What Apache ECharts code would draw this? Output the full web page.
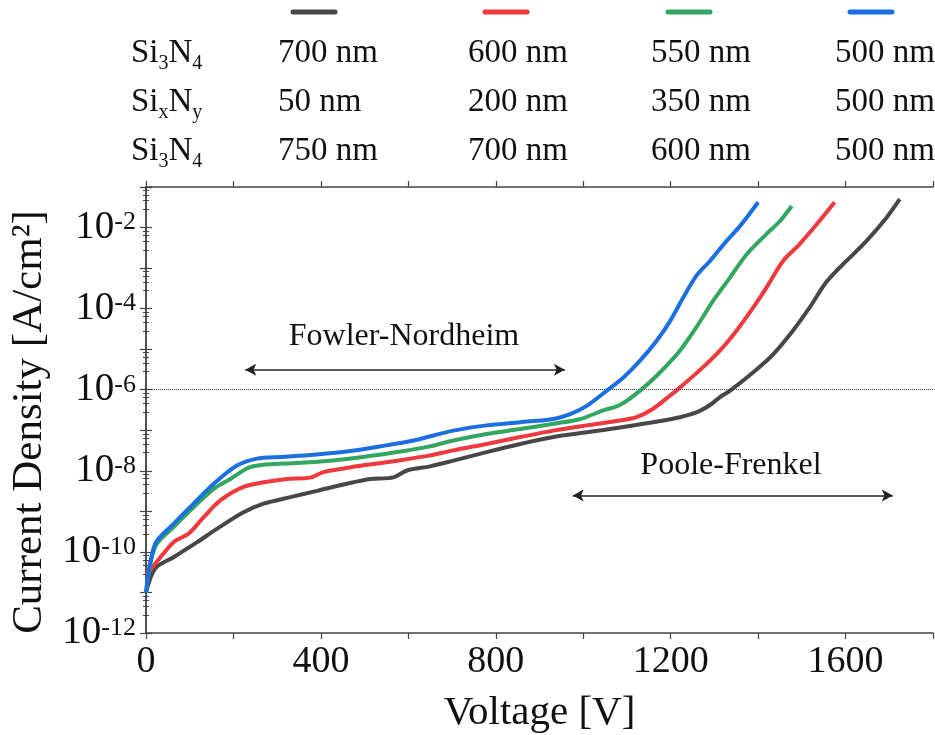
<!DOCTYPE html>
<html>
<head>
<meta charset="utf-8">
<script src="https://cdn.jsdelivr.net/npm/echarts@6/dist/echarts.min.js"></script>
<style>
  html, body { margin: 0; padding: 0; background: #fff; }
  #main { width: 935px; height: 735px; }
</style>
</head>
<body>
<div id="main"></div>
<script>
var chart = echarts.init(document.getElementById('main'));

var FONT = '"Liberation Serif", "Times New Roman", serif';

// layer stacks (top / middle / bottom thickness), one column per sample
var colLabels = ['Si{sub|3}N{sub|4}', 'Si{sub|x}N{sub|y}', 'Si{sub|3}N{sub|4}'];
var topLayer = ['700 nm', '600 nm', '550 nm', '500 nm'];
var midLayer = ['50 nm', '200 nm', '350 nm', '500 nm'];
var botLayer = ['750 nm', '700 nm', '600 nm', '500 nm'];
var colors = ['#474747', '#f0393d', '#33a65f', '#1b6fe0'];

// voltage [V] and current density [A/cm2]
var blackV = [0, 21, 63, 117, 162, 223, 269, 330, 391, 459, 513, 566, 597, 650, 703, 779, 856, 932, 1008, 1084, 1160, 1221, 1259, 1290, 1313, 1336, 1389, 1435, 1480, 1518, 1553, 1579, 1602, 1648, 1694, 1724];
var blackJ = [1.0e-11, 3.9e-11, 7.4e-11, 1.74e-10, 3.7e-10, 9.5e-10, 1.55e-9, 2.24e-9, 3.2e-9, 4.8e-9, 6.3e-9, 6.9e-9, 1.02e-8, 1.29e-8, 1.78e-8, 2.9e-8, 4.6e-8, 6.8e-8, 8.9e-8, 1.17e-7, 1.58e-7, 2.1e-7, 2.75e-7, 4.2e-7, 6.6e-7, 9.5e-7, 2.7e-6, 7.6e-6, 2.9e-5, 1.07e-4, 4.1e-4, 8.5e-4, 1.5e-3, 4.7e-3, 1.78e-2, 5.0e-2];

var redV = [0, 21, 63, 97, 132, 170, 223, 269, 322, 376, 406, 482, 574, 650, 703, 779, 856, 932, 1008, 1084, 1122, 1160, 1198, 1213, 1266, 1312, 1351, 1389, 1419, 1457, 1495, 1534, 1575];
var redJ = [2.8e-11, 5.1e-11, 1.74e-10, 2.8e-10, 7.2e-10, 1.86e-9, 4.0e-9, 5.2e-9, 6.3e-9, 6.8e-9, 9.3e-9, 1.29e-8, 1.78e-8, 2.4e-8, 3.2e-8, 4.6e-8, 6.8e-8, 9.8e-8, 1.32e-7, 1.74e-7, 2.1e-7, 3.4e-7, 7.1e-7, 9.5e-7, 3.0e-6, 9.1e-6, 2.9e-5, 1.07e-4, 3.3e-4, 1.5e-3, 3.9e-3, 1.2e-2, 4.2e-2];

var greenV = [0, 21, 63, 109, 155, 193, 238, 292, 345, 421, 497, 574, 650, 703, 779, 856, 932, 994, 1046, 1084, 1130, 1176, 1221, 1259, 1297, 1336, 1374, 1419, 1450, 1477];
var greenJ = [1.0e-11, 1.32e-10, 4.1e-10, 1.26e-9, 3.6e-9, 6.3e-9, 1.23e-8, 1.48e-8, 1.55e-8, 1.78e-8, 2.2e-8, 2.9e-8, 4.0e-8, 5.6e-8, 8.1e-8, 1.07e-7, 1.45e-7, 1.9e-7, 3.1e-7, 4.2e-7, 9.5e-7, 2.7e-6, 9.1e-6, 3.5e-5, 1.55e-4, 5.9e-4, 2.2e-3, 6.9e-3, 1.45e-2, 3.4e-2];

var blueV = [0, 21, 63, 109, 155, 208, 254, 307, 383, 459, 535, 612, 703, 779, 856, 932, 970, 1008, 1054, 1092, 1130, 1168, 1199, 1229, 1259, 1290, 1328, 1359, 1400];
var blueJ = [1.0e-11, 1.58e-10, 4.9e-10, 1.55e-9, 4.8e-9, 1.35e-8, 2.0e-8, 2.2e-8, 2.5e-8, 3.0e-8, 4.0e-8, 5.6e-8, 9.8e-8, 1.32e-7, 1.58e-7, 1.9e-7, 2.5e-7, 4.0e-7, 9.5e-7, 2.0e-6, 5.2e-6, 1.62e-5, 5.0e-5, 1.9e-4, 6.5e-4, 1.5e-3, 4.7e-3, 1.1e-2, 4.2e-2];

function pairs(xs, ys) {
  return xs.map(function (x, i) { return [x, ys[i]]; });
}

var axisCol = '#444';
var textCol = '#111';

function xAx(pos, showLabel) {
  return {
    type: 'value', position: pos, min: 0, max: 1800, interval: 200,
    axisLine: { show: true, lineStyle: { color: axisCol, width: 1.5 } },
    axisTick: { show: true, length: 6, lineStyle: { color: axisCol, width: 1.2 } },
    splitLine: { show: false },
    axisLabel: {
      show: showLabel, margin: 10, color: textCol, fontFamily: FONT, fontSize: 38,
      formatter: function (v) { return v % 400 === 0 ? String(v) : ''; }
    }
  };
}

// log axis: interval is in decades
function yAx(pos, showLabel) {
  return {
    type: 'log', logBase: 10, position: pos, min: 1e-12, max: 1e-1, interval: 1,
    axisLine: { show: true, lineStyle: { color: axisCol, width: 1.5 } },
    axisTick: { show: true, length: 6, lineStyle: { color: axisCol, width: 1.2 } },
    minorTick: { show: true, splitNumber: 5, length: 3, lineStyle: { color: axisCol, width: 1 } },
    splitLine: { show: false },
    axisLabel: {
      show: showLabel, margin: 10, color: textCol, fontFamily: FONT, fontSize: 39,
      formatter: function (v) {
        var e = Math.round(Math.log10(v));
        if (e % 2 !== 0) return '';
        return '10{sup|' + e + '}';
      },
      rich: {
        sup: { fontFamily: FONT, fontSize: 26, color: textCol, padding: [0, 0, 10, 0] }
      }
    }
  };
}

var xBottom = xAx('bottom', true);
xBottom.name = 'Voltage [V]';
xBottom.nameLocation = 'middle';
xBottom.nameGap = 60;
xBottom.nameTextStyle = { fontFamily: FONT, fontSize: 41, color: textCol };

var yLeft = yAx('left', true);
yLeft.name = 'Current Density [A/cm²]';
yLeft.nameLocation = 'middle';
yLeft.nameGap = 87;
yLeft.nameTextStyle = { fontFamily: FONT, fontSize: 43, color: textCol, padding: [0, 24, 0, 0] };

var names = ['a', 'b', 'c', 'd'];
var allData = [pairs(blackV, blackJ), pairs(redV, redJ), pairs(greenV, greenJ), pairs(blueV, blueJ)];

var series = allData.map(function (d, i) {
  return {
    name: names[i], type: 'line', data: d, showSymbol: false, smooth: 0.3,
    lineStyle: { color: colors[i], width: 4 }, itemStyle: { color: colors[i] },
    z: 3 + i, silent: true
  };
});

// dotted reference line at 1e-6
series[0].markLine = {
  silent: true, symbol: 'none', animation: false, label: { show: false },
  lineStyle: { color: '#333', type: 'dotted', width: 1 },
  data: [[{ coord: [0, 1e-6] }, { coord: [1800, 1e-6] }]]
};
// regime arrows
series[1].markLine = {
  silent: true, symbol: ['arrow', 'arrow'], symbolSize: [9, 11], animation: false,
  label: { show: false },
  lineStyle: { color: '#222', type: 'solid', width: 1.5 },
  data: [
    [{ coord: [227, 3.1e-6] }, { coord: [958, 3.1e-6] }],
    [{ coord: [976, 2.45e-9] }, { coord: [1708, 2.45e-9] }]
  ]
};

var graphics = [];
// legend-like swatches above each column
var swatchX = [293, 485, 668, 850];
swatchX.forEach(function (x, i) {
  graphics.push({
    type: 'line', shape: { x1: x, y1: 12, x2: x + 42, y2: 12 },
    style: { stroke: colors[i], lineWidth: 5, lineCap: 'round' }
  });
});
var rowY = [53, 102, 151];
var colX = [278, 468, 651, 835];
var rows = [topLayer, midLayer, botLayer];
var subStyle = { fontFamily: FONT, fontSize: 20, fill: textCol, padding: [22, 0, 0, 0] };
rowY.forEach(function (y, r) {
  graphics.push({
    type: 'text', x: 131, y: y, style: {
      text: colLabels[r], fontFamily: FONT, fontSize: 33, fill: textCol,
      verticalAlign: 'middle', rich: { sub: subStyle }
    }
  });
  rows[r].forEach(function (t, c) {
    graphics.push({
      type: 'text', x: colX[c], y: y, style: {
        text: t, fontFamily: FONT, fontSize: 33, fill: textCol, verticalAlign: 'middle'
      }
    });
  });
});
graphics.push({
  type: 'text', x: 404, y: 337, style: {
    text: 'Fowler-Nordheim', fontFamily: FONT, fontSize: 32, fill: textCol,
    align: 'center', verticalAlign: 'middle'
  }
});
graphics.push({
  type: 'text', x: 731, y: 466, style: {
    text: 'Poole-Frenkel', fontFamily: FONT, fontSize: 32, fill: textCol,
    align: 'center', verticalAlign: 'middle'
  }
});

var option = {
  animation: false,
  backgroundColor: '#fff',
  grid: { left: 146, right: 2, top: 187, bottom: 102, containLabel: false, outerBoundsMode: 'none' },
  xAxis: [xBottom, xAx('top', false)],
  yAxis: [yLeft, yAx('right', false)],
  series: series,
  graphic: graphics
};

chart.setOption(option);
</script>
</body>
</html>
